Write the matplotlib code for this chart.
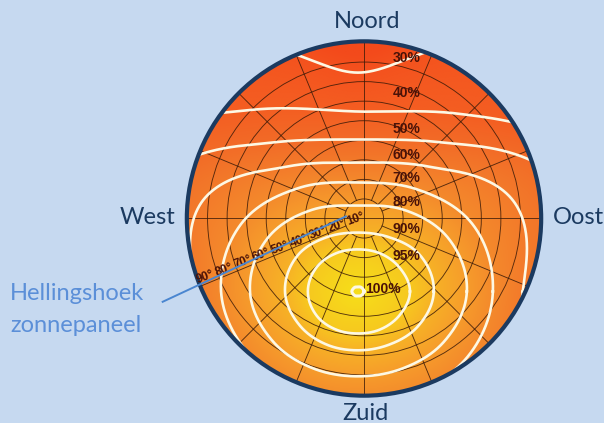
import numpy as np
import matplotlib
matplotlib.use("Agg")
import matplotlib.pyplot as plt
from matplotlib.patches import Circle
from matplotlib.colors import LinearSegmentedColormap

# ---------------- data ----------------
compass_labels = ["Noord", "Oost", "Zuid", "West"]
pointer_label = ["Hellingshoek", "zonnepaneel"]

tilt_rings = [10, 20, 30, 40, 50, 60, 70, 80]
tilt_values = [10, 20, 30, 40, 50, 60, 70, 80, 90]
azimuth_lines = [0, 22.5, 45, 67.5, 90, 112.5, 135, 157.5,
                 180, 202.5, 225, 247.5, 270, 292.5, 315, 337.5]

levels = [100, 95, 90, 80, 70, 60, 50, 40, 30]
level_labels = ["100%", "95%", "90%", "80%", "70%", "60%", "50%", "40%", "30%"]

# optimum (east, north) in tilt-degree units; contour radii around it,
# read every 30 degrees (counter-clockwise from east)
optimum = (-3.1, -37.3)
directions = [0, 30, 60, 90, 120, 150, 180, 210, 240, 270, 300, 330]
radius_100 = [3.1, 2.8, 2.6, 2.3, 2.6, 2.8, 3.1, 2.8, 2.6, 2.3, 2.6, 2.8]
radius_95 = [26.6, 24.5, 22.5, 21.5, 22.5, 24.5, 25.6, 24.5, 22.5, 21.5, 22.5, 24.5]
radius_90 = [38.8, 36.8, 32.0, 30.1, 32.0, 36.0, 37.3, 34.5, 31.5, 30.1, 31.5, 35.5]
radius_80 = [55.7, 53.7, 48.0, 43.9, 48.0, 53.7, 55.2, 50.5, 45.5, 43.4, 45.5, 51.0]
radius_70 = [69.0, 68.0, 60.3, 55.7, 61.0, 69.0, 70.0, 64.4, 58.8, 56.2, 59.3, 65.4]
radius_60 = [84.3, 92.0, 73.6, 65.9, 73.6, 92.0, 83.3, 81.8, 74.1, 69.0, 74.1, 81.8]
radius_50 = [132.9, 117.5, 87.9, 77.7, 87.9, 117.5, 132.9, 153, 153, 153, 153, 153]
radius_40 = [168.6, 138.0, 104.8, 92.0, 107.3, 143.1, 168.6, 204, 204, 204, 204, 204]
radius_30 = [204.4, 178.9, 148.2, 111.9, 148.2, 178.9, 204.4, 250, 250, 250, 250, 250]
radii = [radius_100, radius_95, radius_90, radius_80, radius_70,
         radius_60, radius_50, radius_40, radius_30]

# ---------------- style ----------------
BG = "#c6d9f0"
NAVY = "#1b3a60"
plt.rcParams['font.family'] = ['Lato', 'DejaVu Sans']

K = 90 / 176.0  # chart units per pixel
fig = plt.figure(figsize=(6.04, 4.23), dpi=100, facecolor=BG)
ax = fig.add_axes([0, 0, 1, 1])
ax.set_facecolor(BG)
ax.set_xlim(-364 * K, 240 * K)
ax.set_ylim(-(423 - 218.5) * K, 218.5 * K)
ax.axis('off')


def radius_at(vals, phi):
    r = np.asarray(vals, float)
    n = len(r)
    step = 360.0 / n
    t = (np.asarray(phi) % 360) / step
    i = np.floor(t).astype(int)
    u = t - i
    p0 = r[(i - 1) % n]; p1 = r[i % n]; p2 = r[(i + 1) % n]; p3 = r[(i + 2) % n]
    return 0.5 * (2 * p1 + (-p0 + p2) * u + (2 * p0 - 5 * p1 + 4 * p2 - p3) * u ** 2
                  + (-p0 + 3 * p1 - 3 * p2 + p3) * u ** 3)


clip = Circle((0, 0), 90, transform=ax.transData, fc='none', ec='none')
ax.add_patch(clip)

# background field derived from the contour data
xs = np.linspace(-92, 92, 500)
X, Y = np.meshgrid(xs, xs)
DX = X - optimum[0]
DY = Y - optimum[1]
D = np.hypot(DX, DY)
PHI = np.degrees(np.arctan2(DY, DX))
R = np.array([radius_at(r, PHI) for r in radii])
F = np.full(D.shape, 100.0)
for k in range(len(levels) - 1):
    m = (D > R[k]) & (D <= R[k + 1])
    F[m] = levels[k] + (levels[k + 1] - levels[k]) * (D[m] - R[k][m]) / (R[k + 1][m] - R[k][m])
m = D > R[-1]
F[m] = 30 - 10 * (D[m] - R[-1][m]) / (R[-1][m] - R[-2][m])

cmap = LinearSegmentedColormap.from_list("sun", [
    (0.0, "#f34a1b"), (5 / 75, "#f4521e"), (15 / 75, "#f45e22"), (25 / 75, "#f26b27"),
    (35 / 75, "#f37a2a"), (45 / 75, "#f48a2c"), (55 / 75, "#f69c2b"),
    (65 / 75, "#f7b226"), (70 / 75, "#f7c81f"), (1.0, "#f6dc1a")])
im = ax.imshow(F, extent=(-92, 92, -92, 92), origin='lower', cmap=cmap,
               vmin=25, vmax=100, interpolation='bilinear', zorder=1)
im.set_clip_path(clip)

# grid
GRID = "#3a1a08"
for t in tilt_rings:
    ax.add_patch(Circle((0, 0), t, fill=False, ec=GRID, lw=0.65, alpha=0.85, zorder=2))
for az in azimuth_lines:
    r0 = 0 if az % 90 == 0 else 10
    a = np.radians(az)
    ax.plot([r0 * np.sin(a), 90 * np.sin(a)], [r0 * np.cos(a), 90 * np.cos(a)],
            color=GRID, lw=0.65, alpha=0.85, zorder=2)

# contours
phis = np.linspace(0, 360, 1441)
for lev, r in zip(levels, radii):
    rr = radius_at(r, phis)
    x = optimum[0] + rr * np.cos(np.radians(phis))
    y = optimum[1] + rr * np.sin(np.radians(phis))
    ln, = ax.plot(x, y, color="#fdf8e4", lw=1.9 if lev != 100 else 2.2, zorder=3)
    ln.set_clip_path(clip)

# border
ax.add_patch(Circle((0, 0), 90.6, fill=False, ec=NAVY, lw=3.0, zorder=5))

# percent labels
LBL = "#4a1208"
pct_pos = [(9.5, -36.3), (21.5, -19.3), (21.8, -5.6), (21.8, 8.5), (21.8, 20.8),
           (21.8, 32.7), (21.8, 45.8), (21.8, 64.2), (21.8, 82.1)]
for lab, (x, y) in zip(level_labels, pct_pos):
    ax.text(x, y, lab, ha='center', va='center', fontsize=10, fontweight='bold',
            color=LBL, family=['Liberation Sans', 'DejaVu Sans'], zorder=6)

# tilt labels along the pointer
p10 = np.array([-4.4, -0.2])
p90 = np.array([-81.2, -29.9])
for i, t in enumerate(tilt_values):
    p = p10 + (p90 - p10) * i / 8.0
    ax.text(p[0], p[1], f"{t}°", ha='center', va='center', rotation=20,
            fontsize=8.6, fontweight='bold', color=LBL,
            family=['Liberation Sans', 'DejaVu Sans'], zorder=6)

# pointer line
ax.plot([-103.4, -8.8], [-42.8, 1.3], color="#4a86d0", lw=1.4, zorder=7,
        solid_capstyle='butt')
ax.text(-180.9, -38.1, pointer_label[0], ha='left', va='center', fontsize=17,
        color="#5b8fd8", zorder=7)
ax.text(-180.9, -54.6, pointer_label[1], ha='left', va='center', fontsize=17,
        color="#5b8fd8", zorder=7)

# compass
FS = 17
ax.text(1.4, 100.8, compass_labels[0], ha='center', va='center', fontsize=FS, color=NAVY)
ax.text(109.5, 0.3, compass_labels[1], ha='center', va='center', fontsize=FS, color=NAVY)
ax.text(0.9, -99.5, compass_labels[2], ha='center', va='center', fontsize=FS, color=NAVY)
ax.text(-110.5, 0.3, compass_labels[3], ha='center', va='center', fontsize=FS, color=NAVY)

fig.savefig("out.png", dpi=100, facecolor=BG)
